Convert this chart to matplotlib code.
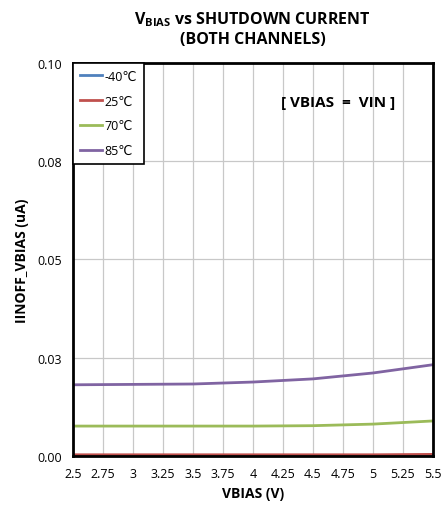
import matplotlib.pyplot as plt
from matplotlib.ticker import FuncFormatter

plt.rcParams['font.family'] = ['Open Sans', 'DejaVu Sans']
plt.rcParams['mathtext.fontset'] = 'custom'
plt.rcParams['mathtext.rm'] = 'Open Sans'
plt.rcParams['mathtext.bf'] = 'Open Sans:bold'

# data
vbias = [2.5, 3.0, 3.5, 4.0, 4.5, 5.0, 5.5]
i_m40 = [0.0001, 0.0001, 0.0001, 0.0001, 0.0001, 0.0001, 0.0001]
i_25 = [0.0003, 0.0003, 0.0003, 0.0003, 0.0003, 0.0003, 0.0004]
i_70 = [0.0076, 0.0076, 0.0076, 0.0076, 0.0077, 0.0081, 0.0089]
i_85 = [0.0181, 0.0182, 0.0183, 0.0188, 0.0196, 0.0211, 0.0232]

series = [("-40℃", i_m40, "#4f81bd"),
          ("25℃", i_25, "#c0504d"),
          ("70℃", i_70, "#9bbb59"),
          ("85℃", i_85, "#8064a2")]

xticks = [2.5, 2.75, 3, 3.25, 3.5, 3.75, 4, 4.25, 4.5, 4.75, 5, 5.25, 5.5]
xticklabels = ["2.5", "2.75", "3", "3.25", "3.5", "3.75", "4", "4.25",
               "4.5", "4.75", "5", "5.25", "5.5"]

fig = plt.figure(figsize=(4.43, 5.1), dpi=100)
ax = fig.add_axes([0.165, 0.104, 0.812, 0.771])

for name, vals, col in series:
    ax.plot(vbias, vals, color=col, lw=2, label=name)

ax.set_xlim(2.5, 5.5)
ax.set_ylim(0, 0.1)
ax.set_xticks(xticks)
ax.set_xticklabels(xticklabels)
ax.set_yticks([0, 0.025, 0.05, 0.075, 0.1])
ax.yaxis.set_major_formatter(FuncFormatter(lambda v, p: "%.2f" % (v + 1e-9)))
ax.tick_params(length=0, labelsize=9, pad=8)
ax.grid(True, color="#c8c8c8", lw=0.9)
ax.set_axisbelow(True)
for s in ax.spines.values():
    s.set_linewidth(2)
    s.set_color("black")

ax.set_xlabel("VBIAS (V)", fontsize=10, fontweight="bold")
ax.set_ylabel("IINOFF_VBIAS (uA)", fontsize=10, fontweight="bold", labelpad=6)

fig.text(0.57, 0.962, r"$\mathbf{V_{BIAS}}$ vs SHUTDOWN CURRENT",
         ha="center", va="center", fontsize=11.5, fontweight="bold")
fig.text(0.57, 0.921, "(BOTH CHANNELS)", ha="center", va="center",
         fontsize=11.5, fontweight="bold")

ax.text(0.736, 0.9, "[ VBIAS  =  VIN ]", transform=ax.transAxes,
        ha="center", va="center", fontsize=11, fontweight="bold")

leg = ax.legend(loc="upper left", bbox_to_anchor=(0, 1), fontsize=9,
                frameon=True, fancybox=False, handlelength=1.8,
                handletextpad=0.15, labelspacing=0.95, borderaxespad=0,
                borderpad=0.55)
leg.get_frame().set_edgecolor("black")
leg.get_frame().set_linewidth(1.2)
leg.get_frame().set_alpha(1)

fig.savefig("out.png", dpi=100)
